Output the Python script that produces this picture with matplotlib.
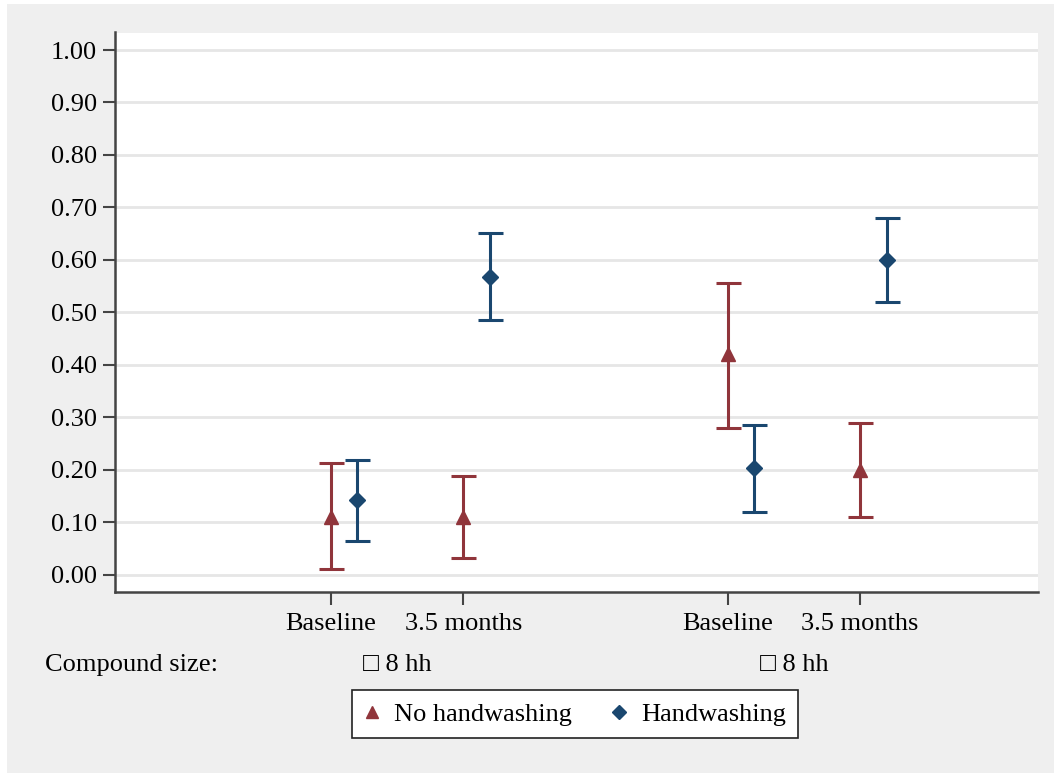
import matplotlib.pyplot as plt
from matplotlib.patches import Rectangle
from matplotlib.lines import Line2D
import numpy as np

# positions of the four categories on the x axis
cat_pos = [1, 2, 4, 5]
cat_labels = ['Baseline', '3.5 months', 'Baseline', '3.5 months']
group_labels = ['\u25a1 8 hh', '\u25a1 8 hh']

# No handwashing (red triangles)
no_hw = [0.11, 0.11, 0.42, 0.20]
no_hw_lo = [0.01, 0.032, 0.28, 0.11]
no_hw_hi = [0.212, 0.189, 0.555, 0.29]

# Handwashing (blue diamonds)
hw = [0.143, 0.568, 0.203, 0.600]
hw_lo = [0.065, 0.485, 0.12, 0.519]
hw_hi = [0.219, 0.651, 0.286, 0.680]

red = '#90353b'
blue = '#1a476f'
bg = '#efefef'
fam = ['Liberation Serif', 'DejaVu Serif']
fs = 19

plt.rcParams['font.family'] = fam

fig = plt.figure(figsize=(10.54, 7.73), dpi=100, facecolor='white')
fig.patches.append(Rectangle((7 / 1054, 0), 1, 1 - 4 / 773, transform=fig.transFigure,
                             facecolor=bg, edgecolor='none', zorder=-10))
ax = fig.add_axes([115 / 1054, 1 - 592 / 773, (1038 - 115) / 1054, (592 - 32.5) / 773])
ax.set_zorder(1)
ax.set_facecolor('white')

x = np.array(cat_pos, dtype=float)
off = 0.2
ax.errorbar(x, no_hw,
            yerr=[np.array(no_hw) - np.array(no_hw_lo), np.array(no_hw_hi) - np.array(no_hw)],
            fmt='^', color=red, ms=10, elinewidth=2.2, capsize=9, capthick=2.2, zorder=3)
ax.errorbar(x + off, hw,
            yerr=[np.array(hw) - np.array(hw_lo), np.array(hw_hi) - np.array(hw)],
            fmt='D', color=blue, ms=8, elinewidth=2.2, capsize=9, capthick=2.2, zorder=3)

ax.set_xlim(-0.633, 6.345)
ax.set_ylim(-0.033, 1.0334)
yt = np.arange(0, 1.01, 0.1)
ax.set_yticks(yt)
ax.set_yticklabels(['%.2f' % v for v in yt], fontsize=fs)
ax.yaxis.grid(True, color='#e6e6e6', linewidth=2)
ax.set_axisbelow(True)
ax.set_xticks(cat_pos)
ax.set_xticklabels(cat_labels, fontsize=fs)
ax.tick_params(axis='y', length=9, width=1.5, color='#444444', pad=4)
ax.tick_params(axis='x', length=9, width=1.5, color='#444444', pad=6)

for s in ['top', 'right']:
    ax.spines[s].set_visible(False)
for s in ['left', 'bottom']:
    ax.spines[s].set_color('#444444')
    ax.spines[s].set_linewidth(1.8)

# second row of x labels
fig.text(45 / 1054, 1 - 665 / 773, 'Compound size:', fontsize=fs, va='center', ha='left')
for i, lab in enumerate(group_labels):
    xc = (cat_pos[2 * i] + cat_pos[2 * i + 1]) / 2
    ax.annotate(lab, xy=(xc, 0), xycoords=('data', 'figure fraction'),
                xytext=(0, 773 - 665), textcoords='offset pixels',
                fontsize=fs, ha='center', va='center', annotation_clip=False)

handles = [Line2D([], [], marker='^', color=red, ls='none', ms=9),
           Line2D([], [], marker='D', color=blue, ls='none', ms=7)]
leg = fig.legend(handles, ['No handwashing', 'Handwashing'], loc='center',
                 bbox_to_anchor=(575 / 1054, 1 - 714 / 773), ncol=2, fontsize=fs,
                 frameon=True, fancybox=False, edgecolor='#222222', framealpha=1,
                 handletextpad=0.55, columnspacing=1.45, borderpad=0.45, handlelength=0.6)
leg.get_frame().set_linewidth(1.2)

fig.savefig('out.png', dpi=100, facecolor=fig.get_facecolor())
